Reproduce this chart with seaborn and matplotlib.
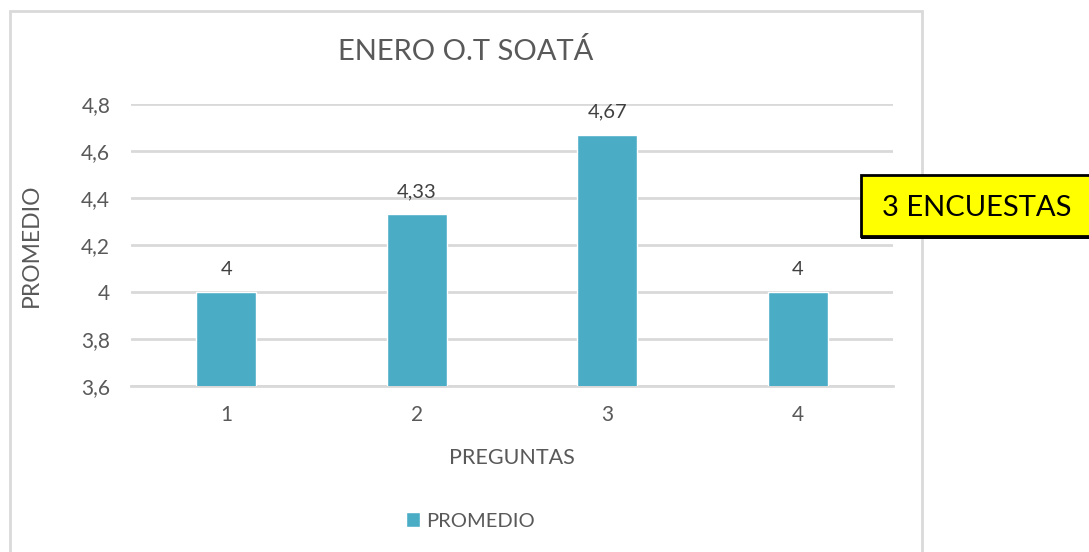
import pandas as pd
import matplotlib.pyplot as plt
import matplotlib.patches as patches
import seaborn as sns

# Datos del grafico
preguntas = ['1', '2', '3', '4']
promedio = [4.0, 4.33, 4.67, 4.0]
etiquetas = ['4', '4,33', '4,67', '4']
yticks = [3.6, 3.8, 4.0, 4.2, 4.4, 4.6, 4.8]
ytick_labels = ['3,6', '3,8', '4', '4,2', '4,4', '4,6', '4,8']

df = pd.DataFrame({'PREGUNTAS': preguntas, 'PROMEDIO': promedio})

sns.set_theme(style='white')
plt.rcParams['font.family'] = ['Lato', 'DejaVu Sans']

gris = '#595959'
azul = '#4BACC6'

fig = plt.figure(figsize=(10.89, 5.52), dpi=100)
ax = fig.add_axes([131 / 1089, 1 - 386 / 552, (893 - 131) / 1089, (386 - 104) / 552])

sns.barplot(data=df, x='PREGUNTAS', y='PROMEDIO', color=azul, width=0.315,
            saturation=1, ax=ax, label='PROMEDIO', zorder=3)

ax.set_ylim(3.6, 4.8)
ax.set_xlim(-0.5, 3.5)
ax.set_yticks(yticks)
ax.set_yticklabels(ytick_labels)
ax.grid(axis='y', color='#d9d9d9', linewidth=2, zorder=0)
ax.set_axisbelow(True)
for s in ['top', 'right', 'left']:
    ax.spines[s].set_visible(False)
ax.spines['bottom'].set_color('#d9d9d9')
ax.spines['bottom'].set_linewidth(2)
ax.tick_params(axis='both', colors=gris, labelsize=15, length=0)
ax.tick_params(axis='y', pad=15)
ax.tick_params(axis='x', pad=14)

for i, v in enumerate(promedio):
    ax.text(i, v + 0.06, etiquetas[i], ha='center', va='bottom', fontsize=14.5, color='#404040')

ax.set_xlabel('PREGUNTAS', color=gris, fontsize=15.5, labelpad=16)
ax.set_ylabel('PROMEDIO', color=gris, fontsize=16.5, labelpad=28)
fig.text(466 / 1089, 1 - 52 / 552, 'ENERO O.T SOATÁ', ha='center', va='center', fontsize=21, color=gris)

ax.legend(loc='center', bbox_to_anchor=(470 / 1089, 1 - 521 / 552), bbox_transform=fig.transFigure,
          frameon=False, fontsize=14.5, labelcolor=gris, handlelength=0.7, handleheight=0.7, handletextpad=0.3)

# Marco del grafico
fig.patches.append(patches.Rectangle((10 / 1089, -0.05), 912 / 1089, 1.05 - 11 / 552,
                                     transform=fig.transFigure, fill=False, edgecolor='#d9d9d9',
                                     linewidth=2, zorder=0))

# Cuadro amarillo
fig.patches.append(patches.Rectangle((861 / 1089, 1 - 239 / 552), 240 / 1089, 4 / 552,
                                     transform=fig.transFigure, facecolor='black', edgecolor='none', zorder=5))
fig.patches.append(patches.Rectangle((861 / 1089, 1 - 236 / 552), 240 / 1089, 61 / 552,
                                     transform=fig.transFigure, facecolor='#ffff00', edgecolor='black',
                                     linewidth=2, zorder=6))
fig.text(977 / 1089, 1 - 208 / 552, '3 ENCUESTAS', ha='center', va='center', fontsize=21,
         color='black', zorder=7)

fig.savefig('out.png', dpi=100)
